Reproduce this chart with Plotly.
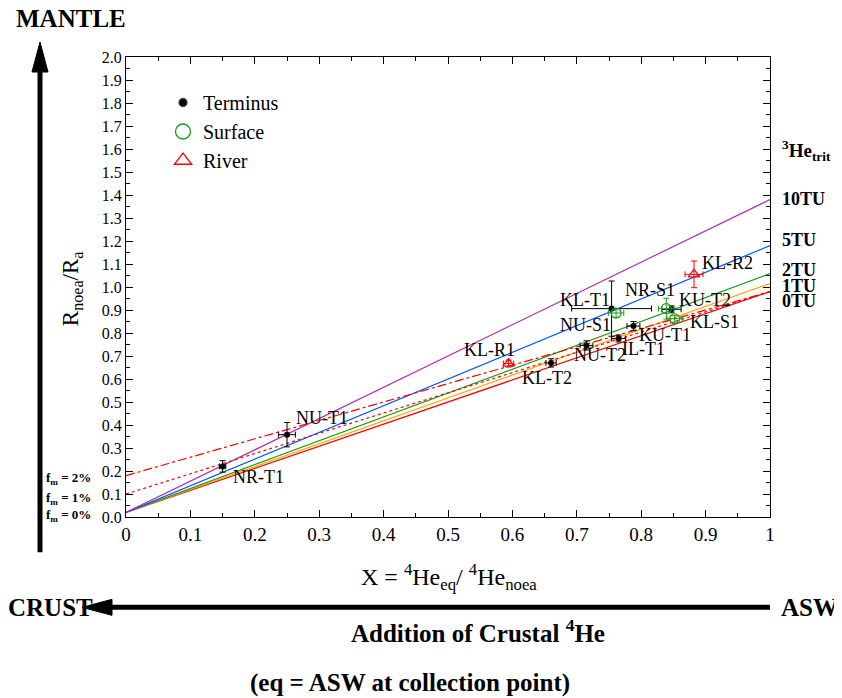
import plotly.graph_objects as go

# ---------------- data ----------------
term_names = ["NR-T1", "NU-T1", "KL-T2", "NU-T2", "IL-T1", "KU-T1", "KL-T1", "KU-T2"]
term_x = [0.150, 0.250, 0.660, 0.715, 0.765, 0.788, 0.754, 0.847]
term_y = [0.220, 0.358, 0.670, 0.746, 0.776, 0.830, 0.906, 0.903]
term_xerr = [0.005, 0.013, 0.008, 0.010, 0.011, 0.010, 0.062, 0.015]
term_yerr = [0.025, 0.053, 0.018, 0.020, 0.015, 0.020, 0.120, 0.015]

surf_names = ["NU-S1", "NR-S1", "KL-S1"]
surf_x = [0.761, 0.839, 0.852]
surf_y = [0.887, 0.906, 0.862]
surf_xerr = [0.012, 0.012, 0.012]
surf_yerr = [0.020, 0.045, 0.015]

river_names = ["KL-R1", "KL-R2"]
river_x = [0.594, 0.882]
river_y = [0.667, 1.055]
river_xerr = [0.008, 0.014]
river_yerr = [0.015, 0.058]

# tritium mixing lines: from crust (X=0) to ASW (X=1)
trit_labels = ["0TU", "1TU", "2TU", "5TU", "10TU"]
trit_y0 = [0.02, 0.02, 0.02, 0.02, 0.02]
trit_y1 = [0.98, 1.015, 1.058, 1.18, 1.38]
trit_colors = ["#ff0000", "#ffa500", "#1a9a1a", "#0050ff", "#b030b0"]

# mantle fraction lines
fm_labels = ["f<sub>m</sub> = 2%", "f<sub>m</sub> = 1%", "f<sub>m</sub> = 0%"]
fm_y0 = [0.18, 0.10]
fm_y1 = [0.98, 0.98]
fm_dash = ["dashdot", "dot"]

# label positions for points (data coords, left anchored)
lab_names = ["NR-T1", "NU-T1", "KL-R1", "KL-T2", "NU-T2", "IL-T1", "KU-T1",
             "NU-S1", "KL-T1", "NR-S1", "KU-T2", "KL-S1", "KL-R2"]
lab_x = [0.163, 0.261, 0.522, 0.612, 0.693, 0.767, 0.793,
         0.671, 0.671, 0.772, 0.856, 0.873, 0.891]
lab_y = [0.173, 0.429, 0.725, 0.603, 0.703, 0.729, 0.790,
         0.833, 0.942, 0.986, 0.942, 0.847, 1.103]

x_ticks = [i / 10 for i in range(11)]
x_ticktext = ["0", "0.1", "0.2", "0.3", "0.4", "0.5", "0.6", "0.7", "0.8", "0.9", "1"]
y_ticks = [i / 10 for i in range(21)]
y_ticktext = ["%.1f" % v for v in y_ticks]

# ---------------- layout helpers (reference pixel -> paper) ----------------
OFF = 8  # page body margin
L, R, T, B = 126, 770, 57, 516.7
W, H = 842 - OFF, 698 - OFF


def px(x):
    return (x - L) / (R - L)


def py(y):
    return (B - y) / (B - T)


FONT = "Liberation Serif, Times New Roman, serif"
GREEN = "#1a9a1a"
RED = "#ff0000"

fig = go.Figure()

for lab, a, b, c in zip(trit_labels, trit_y0, trit_y1, trit_colors):
    fig.add_trace(go.Scatter(x=[0, 1], y=[a, b], mode="lines",
                             line=dict(color=c, width=1.2), showlegend=False,
                             hoverinfo="skip"))
for a, b, d in zip(fm_y0, fm_y1, fm_dash):
    fig.add_trace(go.Scatter(x=[0, 1], y=[a, b], mode="lines",
                             line=dict(color=RED, width=1.2, dash=d),
                             showlegend=False, hoverinfo="skip"))

fig.add_trace(go.Scatter(
    x=term_x, y=term_y, mode="markers", name="Terminus", text=term_names, showlegend=False,
    marker=dict(color="black", size=6, symbol="circle"),
    error_x=dict(type="data", array=term_xerr, color="black", thickness=1, width=3),
    error_y=dict(type="data", array=term_yerr, color="black", thickness=1, width=3)))
fig.add_trace(go.Scatter(
    x=surf_x, y=surf_y, mode="markers", name="Surface", text=surf_names, showlegend=False,
    marker=dict(color=GREEN, size=10, symbol="circle-open", line=dict(width=1.2)),
    error_x=dict(type="data", array=surf_xerr, color=GREEN, thickness=1, width=3),
    error_y=dict(type="data", array=surf_yerr, color=GREEN, thickness=1, width=3)))
fig.add_trace(go.Scatter(
    x=river_x, y=river_y, mode="markers", name="River", text=river_names, showlegend=False,
    marker=dict(color=RED, size=10, symbol="triangle-up-open", line=dict(width=1.2)),
    error_x=dict(type="data", array=river_xerr, color=RED, thickness=1, width=3),
    error_y=dict(type="data", array=river_yerr, color=RED, thickness=1, width=3)))

# legend entries (legend-only traces with larger symbols)
for nm, col, sym, sz in [("Terminus", "black", "circle", 8),
                         ("Surface", GREEN, "circle-open", 15),
                         ("River", RED, "triangle-up-open", 15)]:
    fig.add_trace(go.Scatter(x=[None], y=[None], mode="markers", name=nm,
                             marker=dict(color=col, size=sz, symbol=sym, line=dict(width=1.3))))

ann = []
for n, x, y in zip(lab_names, lab_x, lab_y):
    ann.append(dict(x=x, y=y, xref="x", yref="y", text=n, showarrow=False,
                    xanchor="left", yanchor="middle",
                    font=dict(family=FONT, size=18, color="black")))

right_lab = ["<sup>3</sup>He<sub>trit</sub>"] + trit_labels[::-1]
right_py = [150, 199, 240, 270, 286, 301]
right_sz = [19, 18, 18, 18, 18, 18]
for t, yy, s in zip(right_lab, right_py, right_sz):
    ann.append(dict(x=px(780), y=py(yy), xref="paper", yref="paper", text="<b>%s</b>" % t,
                    showarrow=False, xanchor="left", yanchor="middle",
                    font=dict(family=FONT, size=s, color="black")))

for t, yy in zip(fm_labels, [478, 498, 515]):
    ann.append(dict(x=px(93), y=py(yy), xref="paper", yref="paper", text="<b>%s</b>" % t,
                    showarrow=False, xanchor="right", yanchor="middle",
                    font=dict(family=FONT, size=13, color="black")))

texts = [
    ("<b>MANTLE</b>", 70.5, 19, 25),
    ("<b>CRUST</b>", 50, 607, 25),
    ("<b>ASW</b>", 809, 607, 25),
    ("<b>Addition of Crustal <sup>4</sup>He</b>", 478, 631, 25),
    ("<b>(eq = ASW at collection point)</b>", 410, 683, 25),
    ("X = <sup>4</sup>He<sub>eq</sub>/ <sup>4</sup>He<sub>noea</sub>", 449, 577, 24),
]
for t, x, y, s in texts:
    ann.append(dict(x=px(x), y=py(y), xref="paper", yref="paper", text=t,
                    showarrow=False, xanchor="center", yanchor="middle",
                    font=dict(family=FONT, size=s, color="black")))
ann.append(dict(x=px(72), y=py(288), xref="paper", yref="paper",
                text="R<sub>noea</sub>/R<sub>a</sub>", textangle=-90, showarrow=False,
                xanchor="center", yanchor="middle",
                font=dict(family=FONT, size=23, color="black")))

shapes = [
    dict(type="line", xref="paper", yref="paper", x0=px(40), x1=px(40),
         y0=py(552), y1=py(70), line=dict(color="black", width=5)),
    dict(type="path", xref="paper", yref="paper", fillcolor="black",
         line=dict(color="black", width=1),
         path="M %f,%f L %f,%f L %f,%f Z" % (px(40), py(42), px(32), py(72), px(48), py(72))),
    dict(type="line", xref="paper", yref="paper", x0=px(770), x1=px(110),
         y0=py(607), y1=py(607), line=dict(color="black", width=5)),
    dict(type="path", xref="paper", yref="paper", fillcolor="black",
         line=dict(color="black", width=1),
         path="M %f,%f L %f,%f L %f,%f Z" % (px(82), py(607), px(112), py(599), px(112), py(615))),
]

axis_common = dict(showgrid=False, zeroline=False, showline=True, linecolor="black",
                   linewidth=1, mirror="ticks", ticks="inside", ticklen=7,
                   tickcolor="black",
                   minor=dict(ticks="inside", ticklen=4, tickcolor="black", dtick=0.05))

fig.update_layout(
    width=W, height=H, plot_bgcolor="white", paper_bgcolor="white",
    margin=dict(l=L - OFF, r=842 - R, t=T - OFF, b=698 - B, autoexpand=False),
    xaxis=dict(range=[0, 1], tickvals=x_ticks, ticktext=x_ticktext,
               tickfont=dict(family=FONT, size=19, color="black"), **axis_common),
    yaxis=dict(range=[0, 2.0], tickvals=y_ticks, ticktext=y_ticktext,
               tickfont=dict(family=FONT, size=16, color="black"), **axis_common),
    legend=dict(x=px(163), y=py(83), xanchor="left", yanchor="top",
                bgcolor="rgba(0,0,0,0)", font=dict(family=FONT, size=20, color="black"),
                tracegroupgap=0, itemwidth=30),
    annotations=ann, shapes=shapes,
)

fig.write_html("out.html")
